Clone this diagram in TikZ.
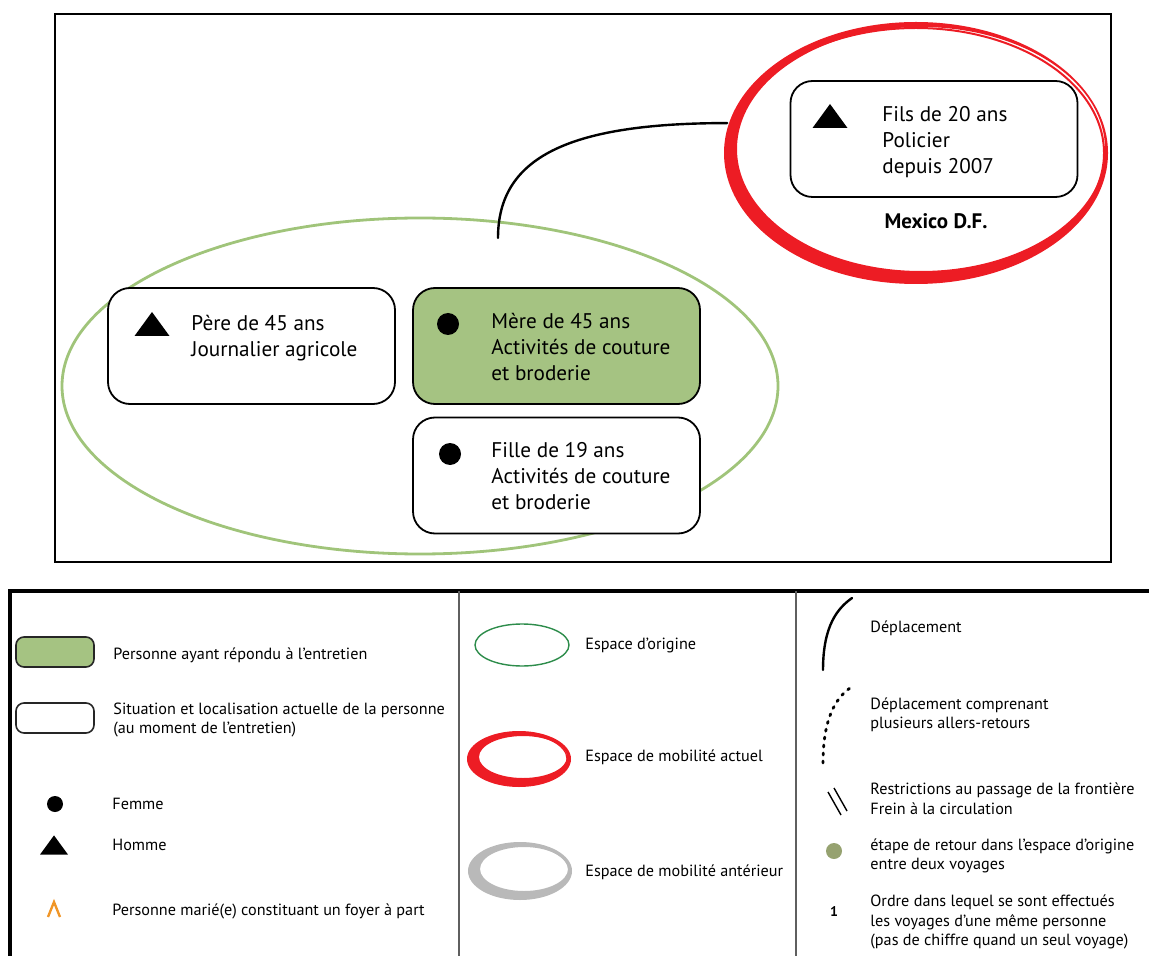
\documentclass[tikz,border=0pt]{standalone}
\usepackage{fontspec}
\setmainfont{PT Sans}
\usetikzlibrary{positioning,shapes.geometric}
\definecolor{repFill}{RGB}{165,195,130}
\definecolor{origLine}{RGB}{160,196,122}
\definecolor{origDark}{RGB}{45,140,75}
\definecolor{mobRed}{RGB}{237,28,36}
\definecolor{antGrey}{RGB}{185,185,185}
\definecolor{retOlive}{RGB}{150,162,112}
\definecolor{marOrange}{RGB}{240,150,40}
\definecolor{sepGrey}{RGB}{95,95,95}

\begin{document}
\begin{tikzpicture}[x=0.5pt,y=-0.5pt,font=\fontsize{10.6}{13}\selectfont,
  pbox/.style ={draw=black,line width=0.9pt,rounded corners=11pt,minimum width=143.5pt,minimum height=58pt,inner sep=0pt,fill=white},
  rep/.style  ={pbox,fill=repFill},
  txt/.style  ={anchor=west,align=left,inner sep=0pt},
  femme/.style={circle,fill=black,inner sep=0pt,minimum size=11pt},
  homme/.pic  ={\fill (-17.5,12) -- (17.5,12) -- (0,-12) -- cycle;},
  orig/.style ={ellipse,draw=origLine,line width=1.4pt,inner sep=0pt},
  mob/.style  ={ellipse,draw=mobRed,inner sep=0pt},
  depl/.style ={line width=1.2pt,line cap=round},
  leg/.style  ={anchor=west,align=left,inner sep=0pt,font=\fontsize{8.1}{9.75}\selectfont},
  lbox/.style ={draw=black!85,line width=0.8pt,rounded corners=4pt,minimum width=39pt,minimum height=15pt,inner sep=0pt,fill=white},
  lrep/.style ={lbox,fill=repFill}]
\useasboundingbox (0,0) rectangle (1149,956);

% situation
\draw[line width=1.3pt] (55,14) rectangle (1111,562);
\node[orig,minimum width=358pt,minimum height=168pt] (origine) at (420,386) {};
\node[mob,line width=1pt,minimum width=188pt,minimum height=125pt,outer sep=3pt] (actuel) at (916,153) {};
\fill[mobRed,even odd rule] (actuel.center) ellipse [x radius=96pt, y radius=65.5pt]
  ([shift={(5,-4)}]actuel.center) ellipse [x radius=92pt, y radius=61pt];

\node[pbox] (pere)  at (251.5,346) {};
\node[rep]  (mere)  at (556.5,346) {};
\node[pbox] (fille) at (556.5,475.5) {};
\node[pbox] (fils)  at (934,139) {};

\pic (pereS) at (152,324) {homme};
\node[femme] (mereS)  at (448,324) {};
\node[femme] (filleS) at (450,454) {};
\pic (filsS) at (830,116) {homme};

\node[txt] (pereT)  at (191,338.5) {Père de 45 ans\\Journalier agricole};
\node[txt] (mereT)  at (491,346.5) {Mère de 45 ans\\Activités de couture\\et broderie};
\node[txt] (filleT) at (491,476) {Fille de 19 ans\\Activités de couture\\et broderie};
\node[txt] (filsT)  at (882,142) {Fils de 20 ans\\Policier\\depuis 2007};
\node[font=\bfseries\fontsize{10.5}{13}\selectfont,inner sep=0pt] (mexico) at (936,221) {Mexico D.F.};

\coordinate (depart) at (498,238);
\draw[depl] (depart) .. controls +(0,-80) and +(-160,0) .. (actuel.171);

% legende
\draw[line width=2pt] (1149,591) -- (10,591) -- (10,956);
\draw[sepGrey,line width=0.8pt] (459,591) -- (459,956) (796,591) -- (796,956);

\node[lrep] (lgRep) at (55,652) {};
\node[leg] (lgRepT) at (113,655) {Personne ayant répondu à l’entretien};
\node[lbox] (lgSit) at (55,718) {};
\node[leg] (lgSitT) at (113,720) {Situation et localisation actuelle de la personne\\(au moment de l’entretien)};
\node[femme,minimum size=8pt] (lgF) at (55,804) {};
\node[leg] (lgFT) at (112,804) {Femme};
\pic[scale=0.8] (lgH) at (54,845) {homme};
\node[leg] (lgHT) at (112,845) {Homme};
\draw[marOrange,line width=1.2pt] (48,917) -- (54,902) -- (60,917);
\node[leg] (lgMT) at (112,911) {Personne marié(e) constituant un foyer à part};

\node[ellipse,draw=origDark,line width=0.7pt,minimum width=47pt,minimum height=21pt,inner sep=0pt] (lgOrig) at (522,645) {};
\node[leg] (lgOrigT) at (585,645) {Espace d’origine};
\node[mob,line width=0.6pt,minimum width=48pt,minimum height=25pt] (lgMob) at (519,759) {};
\fill[mobRed,even odd rule] (lgMob.center) ellipse [x radius=26pt, y radius=14pt]
  ([shift={(4,-2)}]lgMob.center) ellipse [x radius=22pt, y radius=10.5pt];
\node[leg] (lgMobT) at (585,757) {Espace de mobilité actuel};
\node[ellipse,draw=antGrey,line width=0.6pt,minimum width=49pt,minimum height=26pt,inner sep=0pt] (lgAnt) at (520,871) {};
\fill[antGrey,even odd rule] (lgAnt.center) ellipse [x radius=26pt, y radius=14.5pt]
  ([shift={(4,-2)}]lgAnt.center) ellipse [x radius=22pt, y radius=11pt];
\node[leg] (lgAntT) at (585,872) {Espace de mobilité antérieur};

\coordinate (lgD1) at (823,670);
\coordinate (lgD2) at (852,598);
\draw[depl] (lgD1) .. controls +(0,-45) and +(-14,10) .. (lgD2);
\node[leg] (lgDT) at (870,628) {Déplacement};
\coordinate (lgA1) at (823,763);
\coordinate (lgA2) at (850,688);
\draw[line width=1.4pt,line cap=round,dash pattern=on 1pt off 3pt] (lgA1) .. controls +(0,-45) and +(-14,10) .. (lgA2);
\node[leg] (lgAT) at (870,715) {Déplacement comprenant\\plusieurs allers-retours};
\draw[line width=0.7pt] (828,792) -- (841,815) (834,788) -- (847,811);
\node[leg] (lgRT) at (870,799) {Restrictions au passage de la frontière\\Frein à la circulation};
\node[circle,fill=retOlive,inner sep=0pt,minimum size=8pt] (lgEt) at (834,851) {};
\node[leg] (lgEtT) at (870,856) {étape de retour dans l’espace d’origine\\entre deux voyages};
\node[font=\bfseries\fontsize{7}{8}\selectfont,inner sep=0pt] (lgOrd) at (834,912) {1};
\node[leg] (lgOrdT) at (870,922) {Ordre dans lequel se sont effectués\\les voyages d’une même personne\\(pas de chiffre quand un seul voyage)};
\end{tikzpicture}
\end{document}
